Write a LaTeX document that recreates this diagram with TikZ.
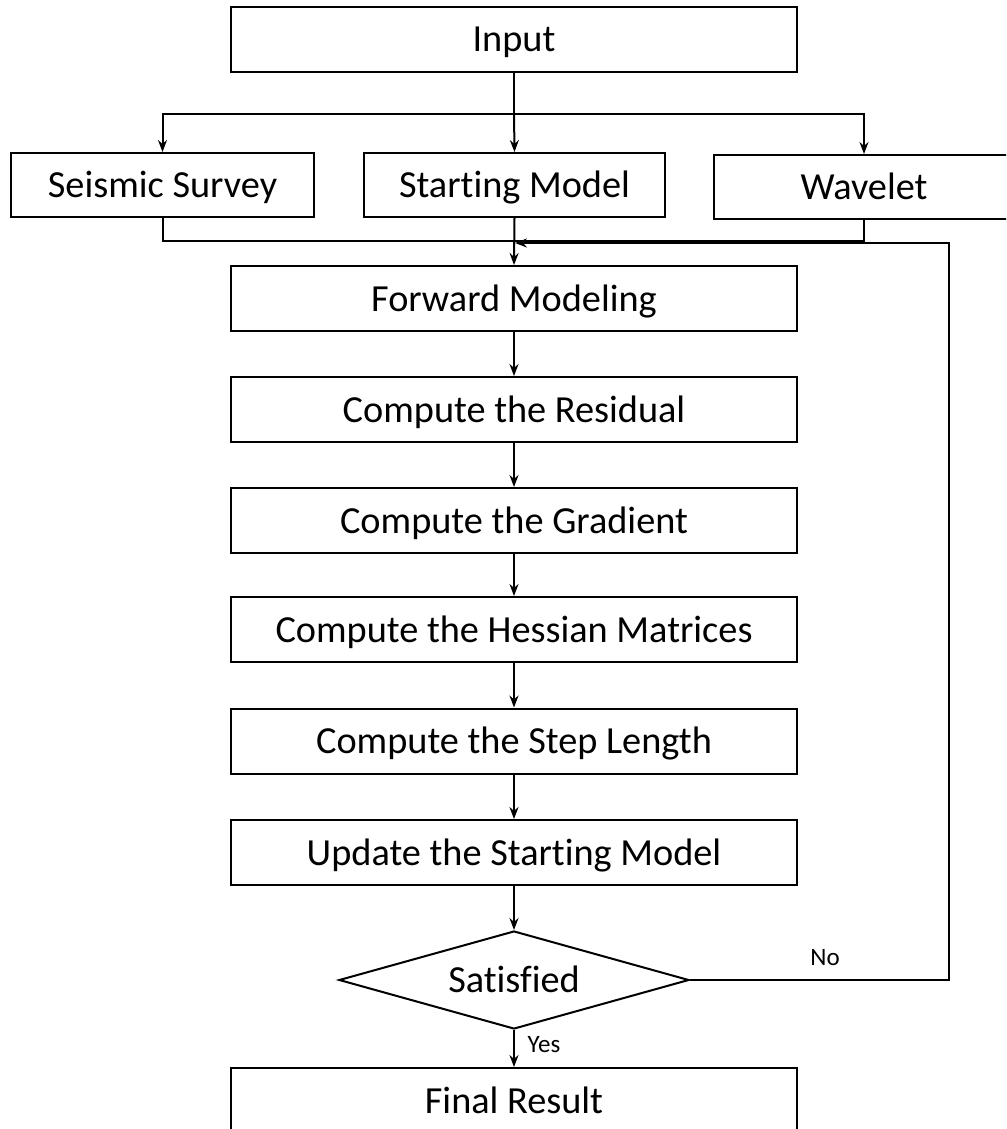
\documentclass[tikz,border=0pt]{standalone}
\usepackage{fontspec}
\setmainfont{Carlito}[Ligatures={NoCommon}]
\usetikzlibrary{shapes.geometric,arrows.meta}
\begin{document}
\begin{tikzpicture}[x=1pt,y=-1pt,
  box/.style={draw, line width=2pt, inner sep=0pt, text height=31pt, text depth=6pt,
    font=\fontsize{38.3}{46}\selectfont},
  bigbox/.style={box, minimum width=566pt, minimum height=65pt},
  smallbox/.style={box, minimum width=302pt, minimum height=64pt},
  decision/.style={draw, line width=2pt, diamond, aspect=3.57, inner sep=0pt,
    text height=31pt, text depth=6pt,
    minimum width=350pt, minimum height=98pt, font=\fontsize{38.3}{46}\selectfont},
  conn/.style={line width=2pt},
  arr/.style={conn, -{Stealth[length=12pt,width=9pt,inset=4pt]}},
  lbl/.style={font=\fontsize{25}{30}\selectfont, inner sep=0pt}
]
\useasboundingbox (0,0) rectangle (1006,1129);
\clip (0,0) rectangle (1006,1129);

\node[bigbox] (input) at (514,39.5) {Input};
\node[smallbox, minimum width=303pt] (seis) at (162.5,185) {Seismic Survey};
\node[smallbox, minimum width=301pt] (start) at (514.5,185) {Starting Model};
\node[smallbox, minimum width=300pt] (wav) at (864,187) {Wavelet};

\node[bigbox] (fwd) at (514,298.5) {Forward Modeling};
\node[bigbox] (res) at (514,409.5) {Compute the Residual};
\node[bigbox] (grad) at (514,520.5) {Compute the Gradient};
\node[bigbox] (hess) at (514,629.5) {Compute the Hessian Matrices};
\node[bigbox] (step) at (514,741) {Compute the Step Length};
\node[bigbox] (upd) at (514,852.5) {Update the Starting Model};
\node[decision] (sat) at (514,980) {Satisfied};
\node[bigbox] (fin) at (514,1100.5) {Final Result};

\coordinate (split) at (514,114);
\coordinate (merge) at (514,241);
\coordinate (fbtop) at (949,243);
\coordinate (fbbot) at (949,980);
\coordinate (fbtip) at (515,243);

% input split
\draw[conn] (input.south) -- (split);
\draw[arr] (split) -| (seis.north);
\draw[arr] (split) -- (start.north);
\draw[arr] (split) -| (wav.north);

% merge into forward modeling
\draw[conn] (seis.south) |- (merge);
\draw[conn] (wav.south) |- (merge);
\draw[arr] (start.south) -- (fwd.north);

% main chain
\draw[arr] (fwd) -- (res);
\draw[arr] (res) -- (grad);
\draw[arr] (grad) -- (hess);
\draw[arr] (hess) -- (step);
\draw[arr] (step) -- (upd);
\draw[arr] (upd) -- (sat);
\draw[arr] (sat) -- (fin);

% feedback
\draw[arr] (sat.east) -- (fbbot) -- (fbtop) -- (fbtip);

\node[lbl] (no) at (825,958) {No};
\node[lbl] (yes) at (544,1045) {Yes};
\end{tikzpicture}
\end{document}
